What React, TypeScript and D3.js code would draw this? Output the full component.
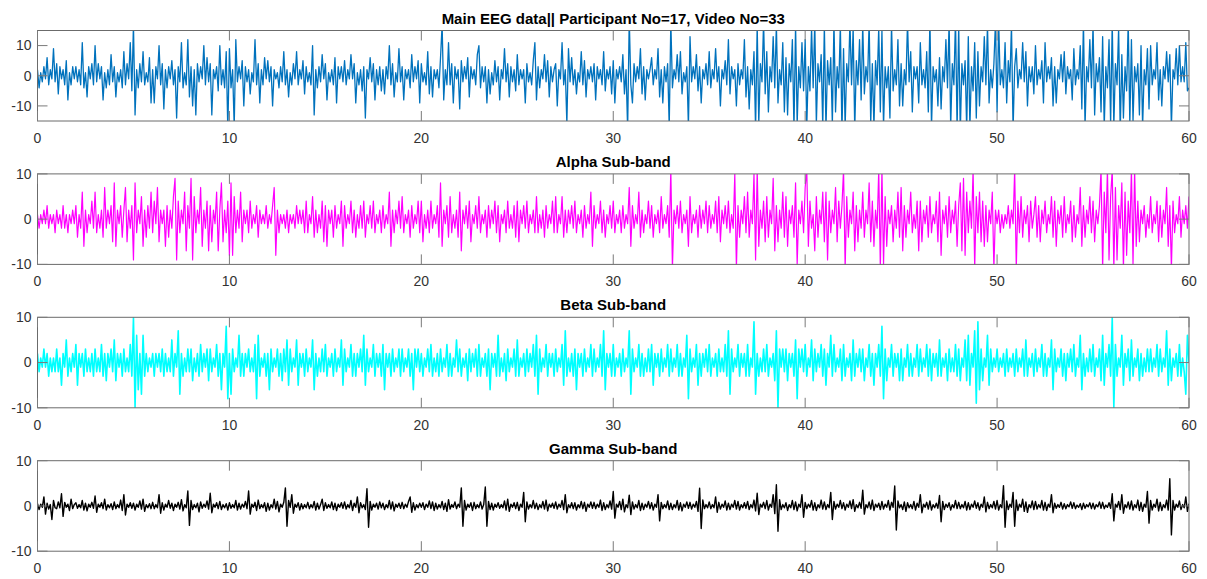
import React from 'react';
import * as d3 from 'd3';

// samples per second
const SAMPLE_RATE = 12;

const titles = [
  'Main EEG data|| Participant No=17, Video No=33',
  'Alpha Sub-band',
  'Beta Sub-band',
  'Gamma Sub-band',
];
const yLimits = [15, 10, 10, 10];
const xTicks = [0, 10, 20, 30, 40, 50, 60];
const yTicks = [-10, 0, 10];
const colors = ['#0072BD', '#FF00FF', '#00FFFF', '#000000'];

// main EEG trace (0..60 s), one row per second
const mainEeg = [
  2, -4, 1, -2, 3, -1, 6, -3, 2, -1, 9, -2,
  4, -6, 3, -1, 2, -3, 5, -8, 1, -3, 3, -1,
  3, -2, 2, -3, 11, -4, 1, -7, 3, -1, 4, -3,
  10, -2, 4, -1, 3, -8, 1, -4, 2, -3, 7, -2,
  3, -7, 1, -2, 2, -4, 8, -3, 4, -1, 11, -5,
  17, -13, 2, -4, 4, -2, 8, -3, 1, -2, 6, -9,
  2, -9, 3, -1, 10, -3, 4, -11, 2, -4, 3, -1,
  5, -3, 2, -14, 3, -2, 11, -4, 1, -3, 12, -7,
  3, -10, 2, -13, 4, -2, 3, -1, 10, -3, 6, -2,
  4, -13, 2, -1, 3, -5, 10, -3, 2, -4, 8, -18,
  // 10 s
  9, -4, 2, -17, 12, -2, 3, -1, 5, -10, 3, -2,
  2, -6, 1, -2, 12, -3, 4, -9, 2, -3, 6, -1,
  5, -2, 3, -10, 2, -1, 1, -4, 3, -2, 8, -3,
  2, -7, 1, -3, 4, -1, 8, -3, 2, -1, 5, -6,
  3, -2, 1, -3, 10, -13, 2, -4, 3, -2, 7, -1,
  4, -8, 1, -2, 2, -3, 6, -9, 3, -1, 3, -2,
  5, -3, 2, -1, 7, -1, 4, -9, 1, -3, 2, -5,
  3, -14, 2, -1, 6, -2, 4, -8, 2, -3, 3, -5,
  2, -6, 3, -1, 10, -3, 4, -7, 1, -2, 9, -2,
  3, -8, 2, -1, 2, -4, 7, -2, 3, -1, 5, -9,
  // 20 s
  4, -2, 1, -3, 8, -6, 3, -7, 2, -1, 2, -4,
  6, 17, -8, 2, -3, 11, -3, 4, -9, 3, -1, 2,
  -11, 5, -2, 3, -1, 6, -7, 3, -1, 2, -3, 7,
  10, -4, 3, -2, 3, -9, 2, -6, 1, -3, 5, -2,
  3, -8, 2, -1, 9, -2, 4, -7, 3, -2, 2, -5,
  7, -3, 2, -1, 2, -9, 4, -2, 1, -3, 5, 11,
  -8, 3, -4, 2, -1, 7, -2, 5, -7, 3, -2, 2,
  4, -10, 2, -1, 11, -3, 2, -16, 9, -2, 6, -3,
  2, -6, 1, -2, 8, -3, 5, -7, 2, -1, 3, -2,
  4, -8, 3, -1, 2, -3, 8, -5, 2, -1, 3, -6,
  // 30 s
  5, -9, 2, -1, 3, -2, 7, -6, 2, -18, 19, -3,
  -9, 4, -2, 3, -1, 9, -6, 3, -8, 2, -1, 2,
  6, -3, 2, -1, 9, -7, 2, -9, 3, -2, 4, -17,
  18, -4, 2, -1, 7, -2, 8, -6, 1, -2, 3, -17,
  13, -2, 3, -1, 7, -5, 3, -9, 2, -1, 4, -3,
  8, -4, 2, -1, 9, -2, 3, -10, 2, -1, 5, -3,
  12, -6, 3, -1, 2, -10, 4, -3, 2, -1, 12, -7,
  3, -11, 2, -3, 8, -18, 17, -16, 4, -2, 18, -6,
  8, -12, 3, -2, 13, -4, 17, -9, 2, -3, 11, -12,
  6, -13, 4, -2, 12, -18, 17, -16, 3, -4, 11, -5,
  // 40 s
  12, -17, 3, -5, 16, -4, 18, -16, 4, -2, 7, -17,
  17, -18, 5, -3, 6, -16, 18, -12, 3, -4, 17, -19,
  9, -17, 4, -2, 18, -3, 16, -18, 5, -3, 12, -8,
  17, -6, 3, -2, 18, -16, 4, -17, 5, -3, 16, -12,
  15, -17, 3, -4, 3, -14, 17, -5, 2, -3, 12, -10,
  4, -10, 2, -3, 18, -2, 8, -12, 3, -1, 3, -9,
  11, -3, 2, -4, 8, -12, 19, -17, 3, -2, 2, -10,
  6, -11, 3, -2, 12, -4, 18, -17, 4, -3, 19, -18,
  17, -19, 4, -3, 5, -18, 13, -17, 3, -5, 11, -14,
  8, -10, 3, -2, 13, -3, 17, -9, 2, -4, 4, 18,
  // 50 s
  -12, 18, -3, 2, -4, 11, -9, 5, -2, 17, -18, 3,
  9, -4, 2, -1, 11, -2, 8, -10, 3, -2, 3, -6,
  10, -3, 2, -1, 5, -9, 11, -2, 3, -1, 6, -10,
  3, -9, 2, -1, 7, -2, 8, -6, 3, -1, 2, -8,
  9, -3, 2, -1, 10, -11, 18, -17, 3, -2, 12, -4,
  17, -13, 4, -2, 6, -12, 13, -17, 3, -4, 12, -16,
  18, -17, 4, -3, 16, -19, 7, -14, 3, -5, 18, -16,
  12, -15, 3, -2, 4, -13, 10, -17, 2, -3, 9, -11,
  10, -3, 2, -1, 11, -8, 2, -10, 3, -1, 8, -2,
  7, -17, 2, -1, 9, -3, 10, -2, 3, -2, 11, -5,
  -4,
];

// alpha sub-band
const alphaBand = [
  1, -2, 1, -1, 2, -1, 3, -2, 1, -1, 1, -3,
  2, -1, 1, -2, 3, -2, 1, -3, 1, -1, 2, -1,
  3, -4, 1, -2, 6, -6, 2, -3, 1, -1, 4, -2,
  6, -3, 1, -2, 2, -4, 7, -2, 2, -1, 3, -5,
  8, -6, 2, -1, 3, -4, 2, 7, -5, 2, -2, 3,
  -9, 8, -3, 2, -1, 5, -6, 2, -4, 3, -2, 6,
  -3, 4, -1, 7, -5, 2, -1, 2, -6, 3, -4, 2,
  -2, 5, 9, -9, 4, -3, 2, -1, 6, -7, 3, -2,
  9, -9, 5, -3, 2, -1, 7, -6, 2, -2, 4, -7,
  3, -5, 2, -1, 6, -7, 2, 8, -5, 2, -3, 4,
  // 10 s
  -8, 8, -8, 5, -3, 2, -2, 6, -5, 2, -1, 2,
  -3, 4, -2, 1, -1, 3, -4, 2, -1, 1, -1, 3,
  -2, 1, -1, 3, 7, -8, 2, -3, 1, -1, 1, -2,
  2, -3, 1, -1, 1, -2, 3, -1, 2, -1, 2, -3,
  4, -3, 1, -1, 5, -4, 2, -3, 1, -2, 4, -5,
  3, -6, 2, -1, 2, -4, 3, -2, 1, -1, 4, -6,
  3, -2, 1, -1, 4, -3, 2, -4, 1, -2, 3, -2,
  4, -4, 1, -1, 3, -2, 4, -3, 1, -1, 2, -3,
  3, -2, 1, -1, 6, -6, 2, -3, 2, -1, 4, -2,
  5, -3, 1, -1, 2, -4, 3, -2, 1, -1, 4, -3,
  // 20 s
  4, -5, 1, -2, 2, -3, 4, -2, 1, -1, 3, -4,
  8, -6, 2, -1, 3, -4, 5, -3, 1, -2, 2, -4,
  6, -7, 2, -1, 3, -2, 4, -5, 1, -1, 3, -2,
  5, -3, 1, -1, 2, -4, 3, -2, 2, -1, 4, -3,
  3, -5, 1, -1, 2, -3, 4, -2, 1, -2, 3, -4,
  4, -5, 2, -1, 3, -2, 4, -3, 1, -1, 2, -3,
  5, -3, 1, -2, 2, -4, 3, -2, 1, -1, 4, -3,
  5, -3, 1, -1, 5, -4, 2, -3, 2, -1, 3, -2,
  4, -3, 1, -1, 2, -4, 3, -2, 1, -1, 6, -6,
  3, -2, 1, -1, 4, -3, 2, -4, 1, -1, 3, -2,
  // 30 s
  4, -3, 1, -1, 2, -3, 3, -2, 1, -1, 7, -6,
  3, -2, 1, -1, 6, -4, 2, -3, 1, -1, 4, -2,
  3, -4, 1, -1, 2, -3, 5, -2, 1, -1, 3, -4,
  11, -11, 2, -1, 3, -2, 4, -3, 1, -1, 2, -6,
  5, -3, 1, -1, 2, -4, 3, -2, 2, -1, 4, -3,
  3, -2, 1, -1, 4, -3, 5, -5, 2, -1, 3, -2,
  4, -3, 1, -2, 10, -11, 3, -4, 2, -1, 5, -3,
  6, -4, 2, -1, 10, -9, 11, -6, 2, -2, 4, -5,
  5, -4, 2, -1, 9, -7, 3, -5, 2, -2, 6, -4,
  5, -6, 2, -1, 3, -4, 8, -10, 2, -1, 4, -3,
  // 40 s
  7, 11, -6, 4, -2, 1, -7, 5, -4, 2, -1, 6,
  -5, 6, -9, 4, -3, 2, -1, 7, -5, 4, -2, 3,
  11, -11, 5, -4, 2, -1, 6, -7, 3, -5, 2, -2,
  6, -4, 2, -1, 8, -5, 4, -6, 2, -2, 11, -11,
  11, -10, 5, -6, 2, -1, 3, -5, 2, -2, 6, -4,
  7, -7, 3, -4, 2, -1, 6, -3, 1, -2, 4, -7,
  4, -5, 2, -1, 3, -4, 5, -3, 1, -1, 4, -5,
  6, -8, 2, -1, 3, -4, 5, -3, 2, -1, 4, -6,
  3, 8, -7, 9, -8, 6, -3, 4, -2, 11, -11, 5,
  -3, 6, -5, 4, -6, 3, -5, 2, -1, 6, -11, 2,
  // 50 s
  -1, 2, -3, 1, -2, 1, -1, 3, -2, 2, -1, 11,
  -11, 4, -3, 5, -4, 2, -1, 3, -5, 4, -2, 1,
  5, -4, 3, -5, 2, -1, 4, -3, 1, -1, 5, -4,
  4, -6, 2, -1, 3, -4, 5, -3, 1, -1, 4, -5,
  3, -4, 1, -1, 7, -6, 3, -4, 2, -1, 5, -3,
  4, -5, 2, -1, 3, 11, -11, 6, -3, 11, -9, 5,
  11, -11, 7, -9, 3, -2, 8, -11, 6, -8, 4, -3,
  11, -10, 11, -6, 4, -5, 2, -1, 3, -4, 1, -2,
  5, -3, 1, -1, 4, -5, 3, -4, 2, -1, 7, -6,
  3, -11, 4, -3, 1, -1, 5, -4, 2, -1, 3, -2,
  5,
];

// beta sub-band
const betaBand = [
  2, -2, 1, -1, 3, -1, 2, -3, 1, -2, 1, -2,
  3, -2, 1, -5, 2, -1, 5, -3, 1, -2, 2, -1,
  4, -5, 2, -1, 2, -3, 3, -2, 1, -2, 2, -3,
  3, -2, 1, -2, 4, -3, 2, -4, 2, -1, 3, -2,
  5, -4, 2, -1, 2, -3, 3, -2, 1, -2, 4, -3,
  10, -10, 6, -6, 2, -7, 6, -3, 2, -2, 1, -1,
  2, -3, 2, -1, 2, -2, 3, -3, 2, -2, 1, -2,
  5, -3, 2, -1, 7, -7, 2, -3, 1, -2, 3, -2,
  3, -4, 1, -2, 2, -3, 4, -2, 2, -1, 3, -4,
  3, -2, 1, -1, 4, -3, 2, -6, 2, -1, 8, -8,
  // 10 s
  2, -7, 3, -2, 1, -1, 6, -3, 2, -3, 2, -1,
  3, -2, 1, -2, 4, -8, 6, -3, 1, -1, 2, -3,
  2, -6, 3, -2, 1, -1, 3, -3, 2, -4, 3, -2,
  5, -5, 3, -2, 1, -1, 5, -5, 2, -1, 2, -3,
  3, -2, 1, -1, 5, -6, 2, -3, 1, -2, 3, -2,
  4, -3, 1, -1, 2, -3, 3, -2, 1, -1, 5, -5,
  3, -2, 1, -1, 4, -3, 2, -3, 2, -1, 3, -2,
  6, -5, 3, -2, 1, -1, 4, -3, 2, -1, 2, -3,
  4, -6, 2, -1, 2, -3, 3, -2, 1, -1, 3, -3,
  3, -2, 1, -1, 3, -3, 2, -6, 3, -1, 3, -2,
  // 20 s
  2, -3, 1, -1, 3, -2, 4, -3, 1, -2, 2, -3,
  3, -2, 1, -1, 4, -3, 2, -3, 1, -1, 5, -2,
  3, -3, 1, -1, 2, -4, 3, -2, 2, -1, 3, -3,
  4, -3, 1, -1, 2, -3, 3, -6, 2, -1, 2, -3,
  6, -3, 1, -2, 2, -4, 3, -2, 1, -1, 3, -3,
  5, -3, 1, -1, 2, -3, 3, -2, 2, -1, 4, -3,
  6, -7, 3, -2, 1, -1, 4, -3, 2, -1, 2, -3,
  3, -2, 1, -1, 4, -5, 7, -3, 1, -2, 2, -3,
  3, -6, 2, -1, 2, -3, 3, -2, 1, -1, 4, -3,
  3, -2, 1, -1, 4, -3, 7, -6, 2, -1, 2, -3,
  // 30 s
  4, -3, 1, -1, 2, -3, 3, -2, 1, -1, 7, -7,
  3, -2, 1, -1, 4, -3, 2, -3, 1, -2, 3, -2,
  4, -5, 2, -1, 2, -3, 3, -2, 1, -1, 4, -3,
  3, -2, 1, -1, 4, -3, 2, -3, 1, -1, 6, -8,
  3, -2, 1, -1, 4, -5, 2, -3, 2, -1, 3, -2,
  4, -3, 1, -1, 2, -3, 3, -2, 1, -2, 4, -3,
  7, -7, 3, -2, 1, -1, 4, -3, 2, -1, 2, -3,
  4, -3, 1, -1, 9, -7, 2, -3, 1, -2, 3, -2,
  4, -3, 1, -1, 2, -4, 7, -10, 3, -1, 3, -2,
  3, -4, 2, -1, 2, -3, 5, -8, 3, -1, 3, -2,
  // 40 s
  4, -3, 1, -1, 5, -4, 3, -2, 2, -1, 4, -3,
  3, -5, 2, -1, 6, -3, 4, -2, 1, -1, 3, -4,
  4, -3, 1, -1, 2, -4, 5, -3, 2, -1, 3, -2,
  3, -4, 1, -1, 4, -3, 2, -5, 2, -1, 4, -3,
  8, -8, 3, -4, 1, -1, 4, -3, 2, -1, 2, -4,
  3, -4, 1, -1, 4, -3, 2, -3, 1, -1, 4, -3,
  3, -2, 1, -1, 4, -3, 3, -4, 2, -1, 2, -3,
  5, -3, 1, -1, 2, -4, 3, -2, 1, -2, 4, -3,
  3, -4, 1, -1, 5, -4, 6, -5, 2, -1, 7, -9,
  9, -6, 3, -4, 1, -1, 6, -5, 3, -2, 1, -1,
  // 50 s
  3, -2, 1, -1, 2, -3, 3, -2, 1, -1, 2, -3,
  3, -2, 1, -1, 3, -3, 5, -3, 1, -1, 2, -3,
  3, -2, 1, -1, 4, -3, 2, -3, 1, -1, 5, -6,
  3, -2, 1, -1, 3, -3, 2, -4, 2, -1, 3, -2,
  4, -3, 1, -1, 6, -6, 2, -3, 1, -2, 3, -2,
  4, -3, 1, -1, 3, -4, 6, -5, 2, -1, 4, -3,
  10, -10, 4, -3, 1, -1, 6, -5, 2, -1, 3, -4,
  5, -3, 1, -1, 3, -4, 2, -3, 1, -2, 3, -2,
  3, -2, 1, -1, 4, -3, 3, -2, 1, -1, 7, -5,
  3, -4, 1, -1, 2, -3, 4, -3, 1, -2, -7, 6,
  0,
];

// gamma sub-band
const gammaBand = [
  0.5, -0.8, 0.4, -0.3, 2, -1.8, 0.6, -0.7, 0.3, -3, 1.2, -0.4,
  -0.6, 0.9, -0.4, 2.7, -2.3, 0.8, -0.3, 0.4, -1, 1.5, -0.6, 0.3,
  0.7, -0.5, 0.3, -0.4, 1.2, -0.9, 0.6, -1.1, 0.4, -0.3, 0.8, -0.5,
  2.2, -1.4, 0.4, -0.3, 0.7, -0.6, 1.5, -0.9, 0.3, -0.4, 0.5, -0.8,
  0.9, -0.6, 0.3, -0.4, 1.3, -1, 2.5, -2, 0.4, -0.3, 0.7, -0.5,
  0.6, -0.9, 0.4, -0.3, 1.1, -0.7, 1.5, -1.2, 0.3, -0.4, 0.5, -0.6,
  0.8, -0.6, 0.3, -0.4, 2.5, -1.6, 0.7, -0.9, 0.4, -0.3, 1.2, -0.5,
  0.6, -1, 0.4, -0.3, 0.8, -0.7, 1.4, -1.1, 0.3, -0.4, 3.3, -4.3,
  1.2, -0.8, 0.3, -0.4, 0.6, -1.3, 0.9, -0.5, 0.4, -0.3, 1.1, -0.7,
  2.8, -1.5, 0.4, -0.3, 0.7, -0.6, 1, -0.8, 0.3, -0.4, 0.5, -0.9,
  // 10 s
  0.7, -0.5, 0.3, -0.4, 1.2, -0.9, 0.6, -0.7, 0.4, -0.3, 1, -0.6,
  3.3, -1.8, 0.4, -0.3, 0.8, -1, 1.3, -0.6, 0.3, -0.4, 0.7, -1.2,
  0.6, -0.9, 0.3, -0.4, 1.5, -0.7, 1, -1.3, 0.4, -0.3, 0.8, 4,
  -4.5, 1.2, -0.3, 2.5, -1.6, 0.4, -0.3, 0.7, -0.9, 0.5, -0.6, 0.3,
  -0.4, 0.8, -0.6, 0.3, -0.4, 1, -0.9, 0.6, -0.7, 0.3, 1.5, -1,
  0.7, -0.5, 0.3, -0.4, 0.9, -0.8, 0.6, -1, 0.4, -0.3, 0.7, -0.5,
  0.9, -0.7, 0.3, -0.4, 1.2, -1, 0.6, -0.3, 2, -1.5, 0.7, -0.4,
  0.3, -0.8, 3.8, -4.7, 1, -0.9, 0.4, -0.3, 0.6, -0.7, 0.9, -0.4,
  0.6, -0.8, 0.3, -0.4, 1.2, -0.7, 0.9, -1.1, 0.4, -0.3, 0.6, -0.5,
  0.8, -0.6, 0.4, -0.3, 1, 2, -1.4, 0.7, -0.9, 0.3, -0.4, 0.6,
  // 20 s
  -0.3, 0.7, -0.8, 0.4, -0.3, 1.1, -0.6, 0.9, -1, 0.6, -0.7, 0.3,
  -0.4, 1, -0.8, 0.6, -1.2, 1.4, -0.7, 0.3, -0.3, 0.9, -0.6, 0.4,
  -0.3, 4, -4.5, 1.2, -0.9, 0.4, -0.3, 0.7, -1, 0.8, -0.6, 0.3,
  -0.4, 0.9, -0.7, 0.3, 4.2, -4.5, 1, -0.8, 0.6, -0.9, 0.4, -0.3,
  0.7, -0.5, 0.3, -0.4, 1.1, -0.9, 1.5, -1.2, 0.4, -0.3, 0.7, -0.6,
  0.8, -1, 0.4, -0.3, 3, -3.5, 0.9, -0.7, 0.3, -0.4, 1.2, -0.6,
  0.6, -0.8, 0.3, -0.4, 1, -0.7, 1.3, -1.1, 0.4, -0.3, 0.6, -0.5,
  0.9, -0.7, 0.4, -0.3, 1.2, -0.8, 2.5, -1.5, 0.3, -0.4, 0.7, -0.6,
  0.7, -0.9, 0.3, -0.4, 1, -0.6, 0.8, -1.2, 0.4, -0.3, 0.9, -0.5,
  0.8, -0.6, 0.4, -0.3, 1.3, -1, 0.7, -0.8, 0.3, -0.4, 1.1, -0.7,
  // 30 s
  3.2, -2.7, 0.4, -0.3, 1, -0.8, 1.5, -1.3, 0.3, -0.4, 2.4, -1.9,
  0.9, -0.7, 0.3, -0.4, 1.2, -1, 0.6, -0.8, 0.4, -0.3, 1, -0.6,
  0.7, -0.9, 0.4, -0.3, 2.5, -3.3, 0.8, -0.6, 0.3, -0.4, 1.1, -0.8,
  0.6, -0.8, 0.3, -0.4, 1.2, -0.9, 0.7, -1.1, 0.4, -0.3, 0.9, -0.5,
  0.8, -0.7, 0.4, -0.3, 1, -1.2, 3.9, -5, 1.3, -0.6, 0.3, -0.4,
  0.9, -0.6, 0.3, -0.4, 2, -1.4, 0.8, -0.7, 0.4, -0.3, 1.1, -0.9,
  0.6, -0.8, 0.4, -0.3, 1.2, -0.7, 1, -0.9, 0.3, -0.4, 0.7, -0.5,
  1, -0.8, 0.3, -0.4, 1.3, -1.1, 2.8, -1.9, 0.4, -0.3, 0.8, -0.6,
  1.2, -0.9, 0.4, -0.3, 2.5, -1.7, 4.7, -5.6, 1.4, -0.8, 0.3, -0.4,
  0.7, -1, 0.3, -0.4, 1.2, -0.8, 0.9, -1.1, 0.4, -0.3, 2.5, -2.5,
  // 40 s
  0.8, -0.6, 0.4, -0.3, 1.2, -0.9, 0.7, -1, 0.3, -0.4, 1.3, -0.7,
  0.9, -0.8, 0.3, -0.4, 3, -3, 1, -0.7, 0.4, -0.3, 1.2, -0.6,
  0.7, -0.9, 0.4, -0.3, 1.1, -0.6, 1.4, -1.2, 0.3, -0.4, 0.8, -0.5,
  3.5, -1.8, 0.3, -0.4, 0.9, -0.7, 1.3, -1, 0.4, -0.3, 0.6, -0.8,
  1, -0.7, 0.4, -0.3, 1.2, -0.9, 0.8, -0.3, 4.4, -5.3, 1.1, -0.4,
  0.3, -0.8, 0.9, -1.2, 0.7, -0.4, 0.3, -0.6, 1, -0.9, 0.6, -0.3,
  2.5, -1.5, 0.4, -0.3, 0.8, -0.7, 1.1, -0.9, 0.3, -0.4, 0.6, -0.5,
  2.3, -3.5, 1, -0.8, 0.4, -0.3, 0.7, -0.9, 0.3, -0.4, 1.2, -0.6,
  0.8, -0.6, 0.3, -0.4, 1, -0.9, 0.7, -0.8, 0.4, -0.3, 1.1, -0.5,
  0.7, -0.9, 0.4, -0.3, 2, -1.3, 0.8, -0.6, 0.3, -0.4, 1, -0.7,
  // 50 s
  1.2, -0.9, 0.3, -0.4, 4.5, -4.7, 1.1, -0.8, 0.4, -0.3, 3, -4.5,
  1.3, -1, 0.4, -0.3, 1.5, -1.2, 0.9, -1.4, 0.3, -0.4, 1.1, -0.8,
  1, -0.7, 0.3, -0.4, 1.2, -0.9, 0.8, -1, 0.4, -0.3, 2.5, -1.5,
  0.6, -0.5, 0.3, -0.3, 0.8, -0.7, 0.5, -0.6, 0.3, -0.2, 0.9, -0.5,
  0.7, -0.6, 0.2, -0.3, 0.5, -0.8, 0.6, -0.5, 0.3, -0.2, 0.7, -0.6,
  0.6, -0.7, 0.3, -0.2, 0.9, -0.5, 0.8, -0.6, 0.2, -0.3, 0.7, -0.5,
  2.7, -3.3, 0.4, -0.3, 1, -0.8, 2.5, -1.6, 0.3, -0.4, 0.9, -0.7,
  1.1, -0.9, 0.3, -0.4, 1.3, -1, 0.8, -1.2, 0.4, -0.3, 3.2, -3.8,
  1.2, -0.9, 0.4, -0.3, 1.5, -1.1, 0.8, -1, 0.3, -0.4, 1.3, -0.9,
  6, -6.4, 1.2, -0.9, 0.4, -0.3, 1.1, -0.8, 0.3, -0.4, 2, -1.2,
  0.5,
];

const series = [mainEeg, alphaBand, betaBand, gammaBand];
const strokeWidths = [1.3, 1.2, 1.6, 1.4];

const WIDTH = 1207;
const HEIGHT = 579;
const PLOT_LEFT = 37.5;
const PLOT_RIGHT = 1189;
const FIRST_TOP = 30.5;
const PANEL_STEP = 143.4;
const PANEL_H = 90.5;
const TICK_LEN = 10;

const App = () => {
  const x = d3.scaleLinear().domain([0, 60]).range([PLOT_LEFT, PLOT_RIGHT]);

  return (
    <svg
      width={WIDTH}
      height={HEIGHT}
      style={{ position: 'absolute', left: 0, top: 0, background: '#fff' }}
      fontFamily="'Liberation Sans', Arial, Helvetica, sans-serif">
      <rect width={WIDTH} height={HEIGHT} fill='#fff' />
      {series.map((values, i) => {
        const top = FIRST_TOP + i * PANEL_STEP;
        const bottom = top + PANEL_H;
        const lim = yLimits[i];
        const y = d3.scaleLinear().domain([-lim, lim]).range([bottom, top]);
        const line = d3
          .line<number>()
          .x((_, j) => x(j / SAMPLE_RATE))
          .y((v) => y(v));

        return (
          <g key={i}>
            <defs>
              <clipPath id={`clip-${i}`}>
                <rect x={PLOT_LEFT} y={top} width={PLOT_RIGHT - PLOT_LEFT} height={PANEL_H} />
              </clipPath>
            </defs>

            {/* signal */}
            <path
              d={line(values) || ''}
              fill='none'
              stroke={colors[i]}
              strokeWidth={strokeWidths[i]}
              strokeLinejoin='round'
              clipPath={`url(#clip-${i})`}
            />

            {/* box */}
            <rect
              x={PLOT_LEFT}
              y={top}
              width={PLOT_RIGHT - PLOT_LEFT}
              height={PANEL_H}
              fill='none'
              stroke='#6b6b6b'
              strokeWidth={1}
            />

            {/* x ticks, inside, top and bottom */}
            {xTicks.map((t) => (
              <g key={`xt${t}`} stroke='#7a7a7a' strokeWidth={1}>
                <line x1={x(t)} x2={x(t)} y1={bottom} y2={bottom - TICK_LEN} />
                <line x1={x(t)} x2={x(t)} y1={top} y2={top + TICK_LEN} />
              </g>
            ))}
            {xTicks.map((t) => (
              <text
                key={`xl${t}`}
                x={x(t)}
                y={bottom + 22}
                textAnchor='middle'
                fontSize={14}
                fill='#333'>
                {t}
              </text>
            ))}

            {/* y ticks, inside, left and right */}
            {yTicks.map((v) => (
              <g key={`yt${v}`} stroke='#7a7a7a' strokeWidth={1}>
                <line x1={PLOT_LEFT} x2={PLOT_LEFT + TICK_LEN} y1={y(v)} y2={y(v)} />
                <line x1={PLOT_RIGHT} x2={PLOT_RIGHT - TICK_LEN} y1={y(v)} y2={y(v)} />
              </g>
            ))}
            {yTicks.map((v) => (
              <text
                key={`yl${v}`}
                x={PLOT_LEFT - 6}
                y={y(v)}
                dy='0.35em'
                textAnchor='end'
                fontSize={14}
                fill='#333'>
                {v}
              </text>
            ))}

            {/* title */}
            <text
              x={(PLOT_LEFT + PLOT_RIGHT) / 2}
              y={top - 7}
              textAnchor='middle'
              fontSize={15}
              fontWeight='bold'
              fill='#000'>
              {titles[i]}
            </text>
          </g>
        );
      })}
    </svg>
  );
};

export default App;
